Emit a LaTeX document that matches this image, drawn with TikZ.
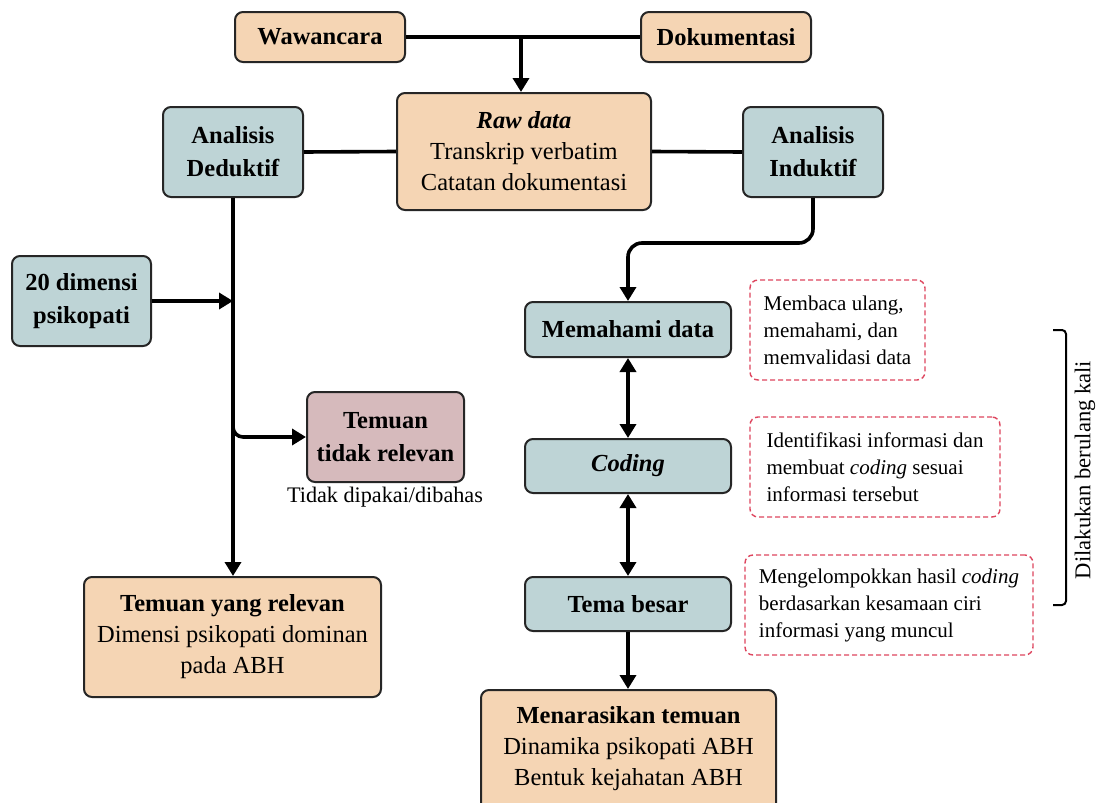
\documentclass[tikz,border=0pt]{standalone}
\usepackage{fontspec}
\setmainfont{Liberation Serif}
\usetikzlibrary{arrows.meta}
\definecolor{peach}{RGB}{245,213,180}
\definecolor{bluegray}{RGB}{190,212,214}
\definecolor{pinkbox}{RGB}{214,186,188}
\definecolor{dashred}{RGB}{222,70,95}
\begin{document}
\begin{tikzpicture}[x=0.5pt,y=-0.5pt,
  box/.style={draw=black!85, line width=1pt, rounded corners=4pt, align=center, inner sep=0pt,
              font=\fontsize{12.25}{15.5}\selectfont},
  pbox/.style={box, fill=peach},
  bbox/.style={box, fill=bluegray},
  rbox/.style={box, fill=pinkbox},
  note/.style={draw=dashred, line width=0.7pt, dash pattern=on 2.5pt off 1.5pt, rounded corners=4pt,
               align=left, inner xsep=5.5pt, inner ysep=0pt, font=\fontsize{10.5}{13.5}\selectfont},
  conn/.style={line width=1.8pt, draw=black},
  arr/.style={conn, -{Triangle[length=7pt,width=8pt]}},
  dbl/.style={conn, {Triangle[length=7pt,width=8pt]}-{Triangle[length=7pt,width=8pt]}},
  small/.style={font=\fontsize{11.1}{13.5}\selectfont, inner sep=0pt}
]
\clip (0,0) rectangle (1100,803);
\fill[white] (0,0) rectangle (1100,803);

% top
\node[pbox, minimum width=85pt, minimum height=25pt] (waw) at (320,37) {\bfseries Wawancara};
\node[pbox, minimum width=85pt, minimum height=25pt] (dok) at (726,37) {\bfseries Dokumentasi};
\node[pbox, minimum width=127pt, minimum height=58.5pt] (raw) at (524,151.5)
  {\textbf{\textit{Raw data}}\\Transkrip verbatim\\Catatan dokumentasi};
\node[bbox, minimum width=70pt, minimum height=45pt, font=\fontsize{12.25}{16.5}\selectfont\bfseries] (ded) at (233,152) {Analisis\\Deduktif};
\node[bbox, minimum width=70pt, minimum height=45pt, font=\fontsize{12.25}{16.5}\selectfont\bfseries] (ind) at (813,152) {Analisis\\Induktif};

% left branch
\node[bbox, minimum width=69.5pt, minimum height=45pt, font=\fontsize{12.25}{16.5}\selectfont\bfseries] (dim) at (81.5,301) {20 dimensi\\psikopati};
\node[rbox, minimum width=78.5pt, minimum height=45pt, font=\fontsize{12.25}{16.5}\selectfont\bfseries] (ntr) at (385.5,437) {Temuan\\tidak relevan};
\node[small] (tdk) at (385,497) {Tidak dipakai/dibahas};
\node[pbox, minimum width=148.5pt, minimum height=60pt] (rel) at (232.5,637)
  {\textbf{Temuan yang relevan}\\Dimensi psikopati dominan\\pada ABH};

% right branch
\node[bbox, minimum width=103pt, minimum height=27.5pt] (mem) at (628,329.5) {\bfseries Memahami data};
\node[bbox, minimum width=103pt, minimum height=27pt] (cod) at (628,466) {\textbf{\textit{Coding}}};
\node[bbox, minimum width=103pt, minimum height=27pt] (tem) at (628,604) {\bfseries Tema besar};
\node[pbox, anchor=north, minimum width=147.5pt, inner ysep=8pt] (nar) at (628.5,689)
  {\textbf{Menarasikan temuan}\\Dinamika psikopati ABH\\Bentuk kejahatan ABH\\[2pt]\mbox{}};

% notes
\node[note, minimum width=87.5pt, minimum height=50pt] (n1) at (837.5,330)
  {Membaca ulang,\\memahami, dan\\memvalidasi data};
\node[note, minimum width=125pt, minimum height=50pt] (n2) at (875,467)
  {Identifikasi informasi dan\\membuat \textit{coding} sesuai\\informasi tersebut};
\node[note, minimum width=144pt, minimum height=50pt] (n3) at (889,605)
  {Mengelompokkan hasil \textit{coding}\\berdasarkan kesamaan ciri\\informasi yang muncul};

% bracket
\coordinate (bt) at (1053,330);
\coordinate (bb) at (1053,605);
\draw[line width=1pt, rounded corners=2pt] (bt) -- (1066,330) -- (1066,605) -- (bb);
\node[rotate=90, small, font=\fontsize{11.3}{13.5}\selectfont] (lab) at (1085,470) {Dilakukan berulang kali};

% connectors
\coordinate (j1) at (521,37);
\draw[conn] (waw.east) -- (dok.west);
\draw[arr] (j1) -- (j1 |- raw.north);
\draw[conn] (ded.east) -- (raw.west);
\draw[conn] (raw.east) -- (ind.west);
\draw[arr] (ded.south) -- (ded.south |- rel.north);
\draw[arr] (dim.east) -- (dim.east -| ded.south);
\coordinate (br) at (233,420);
\draw[arr, rounded corners=5pt] (br) |- (ntr.west);
\draw[arr, rounded corners=7pt] (ind.south) -- ++(0,45) -| (mem.north);
\draw[dbl] (mem.south) -- (cod.north);
\draw[dbl] (cod.south) -- (tem.north);
\draw[arr] (tem.south) -- (tem.south |- nar.north);
\end{tikzpicture}
\end{document}
